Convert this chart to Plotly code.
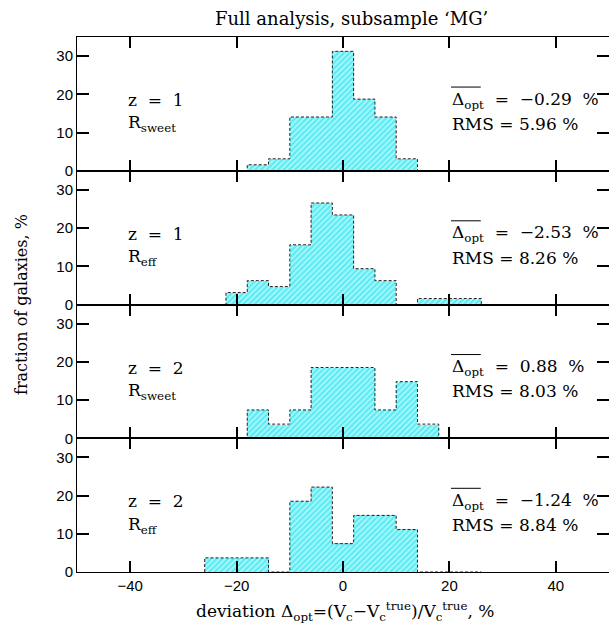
import plotly.graph_objects as go

# ---- data ----
bin_centers = [-24, -20, -16, -12, -8, -4, 0, 4, 8, 12, 16, 20, 24]
bin_width = 4
p1_vals = [0, 0, 1.5625, 3.125, 14.0625, 14.0625, 31.25, 18.75, 14.0625, 3.125, 0, 0, 0]
p2_vals = [0, 3.125, 6.25, 4.6875, 15.625, 26.5625, 23.4375, 9.375, 6.25, 0, 1.5625, 1.5625, 1.5625]
p3_vals = [0, 0, 7.41, 3.70, 7.41, 18.52, 18.52, 18.52, 7.41, 14.81, 3.70, 0, 0]
p4_vals = [3.70, 3.70, 3.70, 0, 18.52, 22.22, 7.41, 14.81, 14.81, 11.11, 0, 0, 0]
panels = [p1_vals, p2_vals, p3_vals, p4_vals]
z_labels = ["z\u00a0\u00a0=\u00a0\u00a01", "z\u00a0\u00a0=\u00a0\u00a01", "z\u00a0\u00a0=\u00a0\u00a02", "z\u00a0\u00a0=\u00a0\u00a02"]
r_labels = ["R<sub>sweet</sub>", "R<sub>eff</sub>", "R<sub>sweet</sub>", "R<sub>eff</sub>"]
mean_vals = ["\u22120.29", "\u22122.53", "0.88", "\u22121.24"]
rms_vals = ["5.96", "8.26", "8.03", "8.84"]
x_range = [-50, 50]
y_range = [0, 35]
x_major = 20
y_major = 10

SERIF = "DejaVu Serif"
SANS = "Liberation Sans"
NB = "\u00a0"

W, H = 609, 628
L, R, T, B = 77, 0, 37, 56

fig = go.Figure()
n = len(panels)
layout_axes = {}

for i, vals in enumerate(panels):
    k = i + 1
    xa, ya = ("x" if k == 1 else f"x{k}"), ("y" if k == 1 else f"y{k}")
    fig.add_trace(go.Bar(
        x=bin_centers, y=vals, width=bin_width, xaxis=xa, yaxis=ya,
        marker=dict(color="#00e2ec", line=dict(width=0),
                    pattern=dict(shape="/", fgcolor="#00e2ec", bgcolor="#b4f7fb",
                                 size=4, solidity=0.6)),
        showlegend=False, hoverinfo="skip"))
    edges = [c - bin_width / 2 for c in bin_centers] + [bin_centers[-1] + bin_width / 2]
    xs = [edges[0]] + edges[:-1] + [edges[-1]]
    ys = [0] + list(vals) + [0]
    fig.add_trace(go.Scatter(
        x=xs, y=ys, xaxis=xa, yaxis=ya, mode="lines",
        line=dict(shape="hv", color="#222222", width=1, dash="3px,2px"),
        showlegend=False, hoverinfo="skip"))

    common = dict(showline=True, linecolor="black", linewidth=1, mirror="allticks",
                  ticks="inside", tickcolor="black", tickwidth=2, showgrid=False, zeroline=False)
    layout_axes["xaxis" if k == 1 else f"xaxis{k}"] = dict(
        domain=[0, 1], anchor=ya, range=x_range, dtick=x_major, ticklen=11,
        showticklabels=(k == n), tickfont=dict(family=SANS, size=15, color="black"), **common)
    layout_axes["yaxis" if k == 1 else f"yaxis{k}"] = dict(
        domain=[1 - k / n, 1 - i / n], anchor=xa, range=y_range, dtick=y_major, ticklen=12,
        tickfont=dict(family=SANS, size=15, color="black"), **common)

annotations = []
shapes = []
for i in range(n):
    yref = "y" if i == 0 else f"y{i+1}"
    f17 = dict(family=SERIF, size=17, color="black")
    annotations.append(dict(x=-40.7, y=18.5, xref="x", yref=yref, text=z_labels[i], showarrow=False,
                            xanchor="left", yanchor="middle", font=f17))
    annotations.append(dict(x=-40.7, y=12.3, xref="x", yref=yref, text=r_labels[i], showarrow=False,
                            xanchor="left", yanchor="middle", font=f17))
    annotations.append(dict(x=20.2, y=18.5, xref="x", yref=yref,
                            text=f"\u0394<sub>opt</sub>{NB}{NB}={NB}{NB}{mean_vals[i]}{NB}{NB}%", showarrow=False,
                            xanchor="left", yanchor="middle", font=f17))
    annotations.append(dict(x=20.2, y=12.3, xref="x", yref=yref,
                            text=f"RMS = {rms_vals[i]} %", showarrow=False,
                            xanchor="left", yanchor="middle", font=f17))
    shapes.append(dict(type="line", xref="x", yref=yref, x0=20.3, x1=25.9, y0=21.9, y1=21.9,
                       line=dict(color="black", width=1)))

pw, ph = W - L - R, H - T - B
def px_to_paper(xp, yp):
    return (xp - L) / pw, (H - yp - B) / ph

tx, ty = px_to_paper(351, 18)
annotations.append(dict(x=tx, y=ty, xref="paper", yref="paper", text="Full analysis, subsample \u2018MG\u2019",
                        showarrow=False, xanchor="center", yanchor="middle",
                        font=dict(family=SERIF, size=18, color="black")))
bx, by = px_to_paper(345, 611)
annotations.append(dict(x=bx, y=by, xref="paper", yref="paper",
                        text="deviation \u0394<sub>opt</sub>=(V<sub>c</sub>\u2212V<sub>c</sub><sup>true</sup>)/V<sub>c</sub><sup>true</sup>, %",
                        showarrow=False, xanchor="center", yanchor="middle",
                        font=dict(family=SERIF, size=17, color="black")))
lx, ly = px_to_paper(21, 305)
annotations.append(dict(x=lx, y=ly, xref="paper", yref="paper", text="fraction of galaxies, %",
                        showarrow=False, xanchor="center", yanchor="middle", textangle=-90,
                        font=dict(family=SERIF, size=16, color="black")))

fig.update_layout(width=W, height=H, margin=dict(l=L, r=R, t=T, b=B),
                  plot_bgcolor="white", paper_bgcolor="white", bargap=0,
                  annotations=annotations, shapes=shapes, **layout_axes)

fig.write_html("out.html")
